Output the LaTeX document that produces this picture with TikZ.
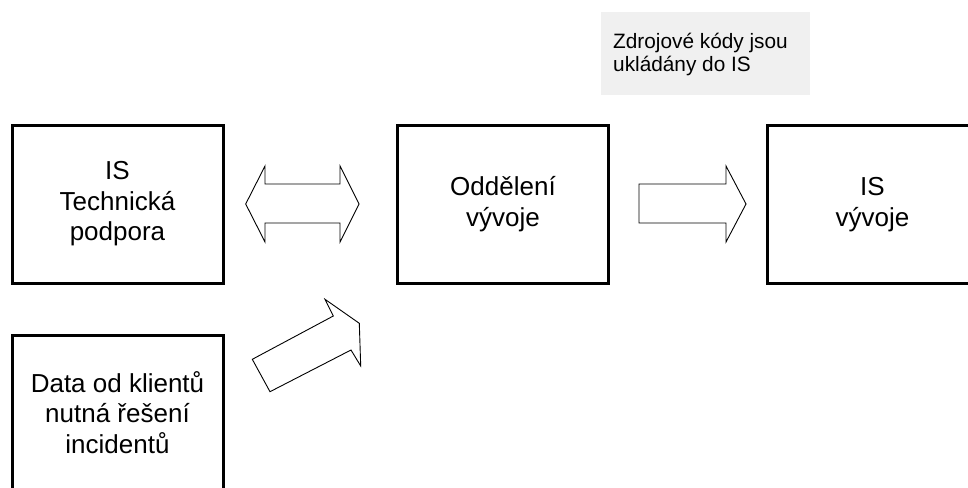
\documentclass[tikz,border=0pt]{standalone}
\usepackage{fontspec}
\setmainfont{Liberation Sans}
\begin{document}
\begin{tikzpicture}[x=1pt,y=-1pt,
  box/.style={draw=black, line width=3pt, minimum width=211pt, minimum height=158pt,
    inner sep=0pt, align=center, font=\fontsize{26}{30.5}\selectfont},
  blockarrow/.style={draw=black, line width=0.9pt, fill=white, line join=miter},
  notebox/.style={fill=black!6, draw=none}]
\useasboundingbox (0,0) rectangle (968,487);
\clip (0,0) rectangle (968,487);
% note
\fill[notebox] (601,12) rectangle (810,95);
\node[anchor=north west, inner sep=0pt, align=left, font=\fontsize{20.8}{23}\selectfont] (note) at (613,32.5) {Zdrojové kódy jsou\\ukládány do IS};
% boxes
\node[box] (tech) at (117.5,204) {IS\\Technická\\podpora};
\node[box] (dev) at (503,204) {Oddělení\\vývoje};
\node[box] (isdev) at (872.5,204.5) {IS\\vývoje};
\node[box, minimum height=155pt] (data) at (117.5,412.5) {Data od klientů\\nutná řešení\\incidentů};
% double arrow
\draw[blockarrow] (245.7,204) -- (265,166) -- (265,184) -- (340,184) -- (340,166) -- (359,204)
  -- (340,242) -- (340,223) -- (265,223) -- (265,242) -- cycle;
% right arrow
\draw[blockarrow] (639,184) -- (726,184) -- (726,166) -- (746,204) -- (726,242) -- (726,223) -- (639,223) -- cycle;
% diagonal arrow (tip cut off)
\draw[blockarrow] (252.3,359.3) -- (333.3,316) -- (325,299.3) -- (359.3,323.3) -- (360.7,366)
  -- (351,350) -- (270,391.7) -- cycle;
\end{tikzpicture}
\end{document}
